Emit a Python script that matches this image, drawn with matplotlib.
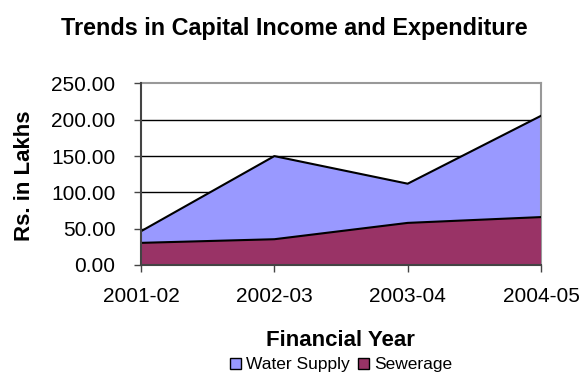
import matplotlib
matplotlib.use("Agg")
import matplotlib.pyplot as plt
from matplotlib.patches import Patch

plt.rcParams['font.family'] = ['Liberation Sans', 'DejaVu Sans']

years = ["2001-02", "2002-03", "2003-04", "2004-05"]
water_supply = [46.5, 150.0, 112.0, 205.5]
sewerage = [30.5, 35.5, 58.0, 66.0]
yticks = [0, 50, 100, 150, 200, 250]

water_color = "#9999FF"
sew_color = "#993366"

fig = plt.figure(figsize=(5.82, 3.74), dpi=100)
W, H = 582, 374
L, R, T, B = 141, 541, 83.5, 265
ax = fig.add_axes([L / W, 1 - B / H, (R - L) / W, (B - T) / H])

x = list(range(len(years)))
ax.fill_between(x, 0, water_supply, facecolor=water_color, edgecolor="none", zorder=2)
ax.plot(x, water_supply, color="black", lw=1.5, zorder=3)
ax.fill_between(x, 0, sewerage, facecolor=sew_color, edgecolor="none", zorder=4)
ax.plot(x, sewerage, color="black", lw=1.5, zorder=5)

ax.set_xlim(0, len(years) - 1)
ax.set_ylim(0, 250)
ax.set_yticks(yticks)
ax.set_yticklabels([f"{v:.2f}" for v in yticks])
ax.set_xticks(x)
ax.set_xticklabels(years)
for v in yticks[1:-1]:
    ax.axhline(v, color="black", lw=1, zorder=1)

for s in ["top", "right"]:
    ax.spines[s].set_color("#999999")
    ax.spines[s].set_linewidth(1.5)
for s in ["left", "bottom"]:
    ax.spines[s].set_color("#444444")
    ax.spines[s].set_linewidth(1.5)
    ax.spines[s].set_zorder(6)

ax.tick_params(axis="both", direction="out", length=5, width=1, color="#444444",
               labelsize=15)
ax.tick_params(axis="y", pad=13.5)
ax.tick_params(axis="x", pad=11)

fig.text(294 / W, 1 - 28 / H, "Trends in Capital Income and Expenditure",
         ha="center", va="center", fontsize=16.8, fontweight="bold")
fig.text(25 / W, 1 - 176 / H, "Rs. in Lakhs", rotation=90, ha="center", va="center",
         fontsize=16, fontweight="bold")
fig.text(340 / W, 1 - 340 / H, "Financial Year", ha="center", va="center",
         fontsize=16, fontweight="bold")

handles = [Patch(facecolor=water_color, edgecolor="black", lw=1),
           Patch(facecolor=sew_color, edgecolor="black", lw=1)]
fig.legend(handles, ["Water Supply", "Sewerage"], loc="center",
           bbox_to_anchor=(341 / W, 1 - 365 / H), ncol=2, frameon=False,
           fontsize=12.5, handlelength=0.6, handleheight=0.6, handletextpad=0.3,
           columnspacing=0.5, borderpad=0)

fig.savefig("out.png", dpi=100)
